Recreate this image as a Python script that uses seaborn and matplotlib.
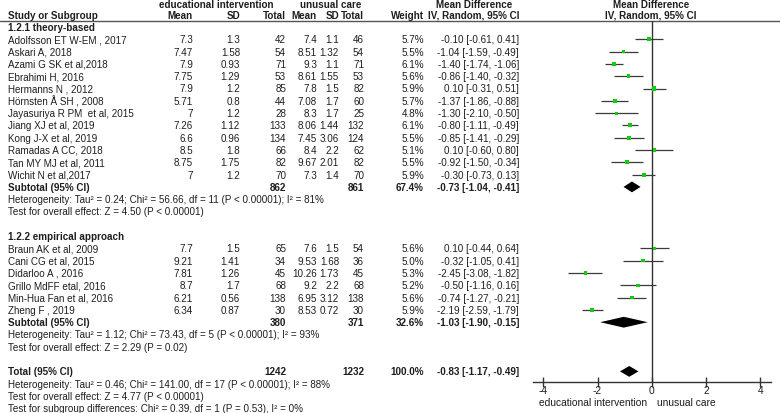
import matplotlib
matplotlib.use("Agg")
import matplotlib.pyplot as plt
import seaborn as sns
import pandas as pd

# ---------------- data ----------------
group1_title = "1.2.1 theory-based"
studies1 = ["Adolfsson ET W-EM , 2017", "Askari A, 2018", "Azami G SK et al,2018",
            "Ebrahimi H, 2016", "Hermanns N , 2012", "Hörnsten Å SH , 2008",
            "Jayasuriya R PM  et al, 2015", "Jiang XJ et al, 2019", "Kong J-X et al, 2019",
            "Ramadas A CC, 2018", "Tan MY MJ et al, 2011", "Wichit N et al,2017"]
edu_mean1 = [7.3, 7.47, 7.9, 7.75, 7.9, 5.71, 7, 7.26, 6.6, 8.5, 8.75, 7]
edu_sd1 = [1.3, 1.58, 0.93, 1.29, 1.2, 0.8, 1.2, 1.12, 0.96, 1.8, 1.75, 1.2]
edu_n1 = [42, 54, 71, 53, 85, 44, 28, 133, 134, 66, 82, 70]
uc_mean1 = [7.4, 8.51, 9.3, 8.61, 7.8, 7.08, 8.3, 8.06, 7.45, 8.4, 9.67, 7.3]
uc_sd1 = [1.1, 1.32, 1.1, 1.55, 1.5, 1.7, 1.7, 1.44, 3.06, 2.2, 2.01, 1.4]
uc_n1 = [46, 54, 71, 53, 82, 60, 25, 132, 124, 62, 82, 70]
weight1 = [5.7, 5.5, 6.1, 5.6, 5.9, 5.7, 4.8, 6.1, 5.5, 5.1, 5.5, 5.9]
md1 = [-0.10, -1.04, -1.40, -0.86, 0.10, -1.37, -1.30, -0.80, -0.85, 0.10, -0.92, -0.30]
lo1 = [-0.61, -1.59, -1.74, -1.40, -0.31, -1.86, -2.10, -1.11, -1.41, -0.60, -1.50, -0.73]
hi1 = [0.41, -0.49, -1.06, -0.32, 0.51, -0.88, -0.50, -0.49, -0.29, 0.80, -0.34, 0.13]
sub1 = {"md": -0.73, "lo": -1.04, "hi": -0.41, "n_edu": 862, "n_uc": 861, "w": 67.4}
het1 = "Heterogeneity: Tau² = 0.24; Chi² = 56.66, df = 11 (P < 0.00001); I² = 81%"
eff1 = "Test for overall effect: Z = 4.50 (P < 0.00001)"

group2_title = "1.2.2 empirical approach"
studies2 = ["Braun AK et al, 2009", "Cani CG et al, 2015", "Didarloo A , 2016",
            "Grillo MdFF etal, 2016", "Min-Hua Fan et al, 2016", "Zheng F , 2019"]
edu_mean2 = [7.7, 9.21, 7.81, 8.7, 6.21, 6.34]
edu_sd2 = [1.5, 1.41, 1.26, 1.7, 0.56, 0.87]
edu_n2 = [65, 34, 45, 68, 138, 30]
uc_mean2 = [7.6, 9.53, 10.26, 9.2, 6.95, 8.53]
uc_sd2 = [1.5, 1.68, 1.73, 2.2, 3.12, 0.72]
uc_n2 = [54, 36, 45, 68, 138, 30]
weight2 = [5.6, 5.0, 5.3, 5.2, 5.6, 5.9]
md2 = [0.10, -0.32, -2.45, -0.50, -0.74, -2.19]
lo2 = [-0.44, -1.05, -3.08, -1.16, -1.27, -2.59]
hi2 = [0.64, 0.41, -1.82, 0.16, -0.21, -1.79]
sub2 = {"md": -1.03, "lo": -1.90, "hi": -0.15, "n_edu": 380, "n_uc": 371, "w": 32.6}
het2 = "Heterogeneity: Tau² = 1.12; Chi² = 73.43, df = 5 (P < 0.00001); I² = 93%"
eff2 = "Test for overall effect: Z = 2.29 (P = 0.02)"

total = {"md": -0.83, "lo": -1.17, "hi": -0.49, "n_edu": 1242, "n_uc": 1232, "w": 100.0}
het_t = "Heterogeneity: Tau² = 0.46; Chi² = 141.00, df = 17 (P < 0.00001); I² = 88%"
eff_t = "Test for overall effect: Z = 4.77 (P < 0.00001)"
sub_t = "Test for subgroup differences: Chi² = 0.39, df = 1 (P = 0.53), I² = 0%"

x_ticks = [-4, -2, 0, 2, 4]
left_label = "educational intervention"
right_label = "unusual care"

# ---------------- style ----------------
sns.set_theme(style="white")
plt.rcParams["font.family"] = ["Liberation Sans", "DejaVu Sans"]
FS = 7.1
TXT = "#1e1e1e"

fig = plt.figure(figsize=(7.8, 4.14), dpi=100)
ax_t = fig.add_axes([0, 0, 1, 1])
ax_t.set_xlim(0, 780)
ax_t.set_ylim(414, 0)
ax_t.axis("off")

Y0, DY = 28.0, 12.3


def ypix(r):
    return Y0 + DY * r


def txt(x, r, s, ha="left", bold=False):
    ax_t.text(x, ypix(r), s, ha=ha, va="center", fontsize=FS, color=TXT,
              fontweight="bold" if bold else "normal")


# column right edges
X_NAME = 8
X_EM, X_ESD, X_EN = 193, 240, 286
X_UM, X_USD, X_UN = 317, 339, 364
X_W, X_CI = 424, 519

# headers
for x, s in [(216, "educational intervention"), (331, "unusual care"),
             (474, "Mean Difference"), (651, "Mean Difference")]:
    ax_t.text(x, 5, s, ha="center", va="center", fontsize=FS, color=TXT,
              fontweight="bold")
for x, s, ha in [(X_NAME, "Study or Subgroup", "left"), (X_EM, "Mean", "right"),
                 (X_ESD, "SD", "right"), (X_EN, "Total", "right"),
                 (X_UM, "Mean", "right"), (X_USD, "SD", "right"),
                 (X_UN, "Total", "right"), (X_W, "Weight", "right"),
                 (X_CI, "IV, Random, 95% CI", "right")]:
    ax_t.text(x, 16, s, ha=ha, va="center", fontsize=FS, color=TXT, fontweight="bold")
ax_t.text(651, 16, "IV, Random, 95% CI", ha="center", va="center",
          fontsize=FS, color=TXT, fontweight="bold")
ax_t.axhline(22, color="#555555", lw=1.0)


def ci_str(m, l, h):
    return f"{m:.2f} [{l:.2f}, {h:.2f}]"


rows_study = []


def study_rows(start, names, em, esd, en, um, usd, un, w, md, lo, hi):
    for i, name in enumerate(names):
        r = start + i
        txt(X_NAME, r, name)
        txt(X_EM, r, f"{em[i]:g}", "right")
        txt(X_ESD, r, f"{esd[i]:g}", "right")
        txt(X_EN, r, f"{en[i]}", "right")
        txt(X_UM, r, f"{um[i]:g}", "right")
        txt(X_USD, r, f"{usd[i]:g}", "right")
        txt(X_UN, r, f"{un[i]}", "right")
        txt(X_W, r, f"{w[i]:.1f}%", "right")
        txt(X_CI, r, ci_str(md[i], lo[i], hi[i]), "right")
        rows_study.append({"row": r, "md": md[i], "lo": lo[i], "hi": hi[i], "w": w[i]})


def summary_row(r, label, d):
    txt(X_NAME, r, label, bold=True)
    txt(X_EN, r, f"{d['n_edu']}", "right", bold=True)
    txt(X_UN, r, f"{d['n_uc']}", "right", bold=True)
    txt(X_W, r, f"{d['w']:.1f}%", "right", bold=True)
    txt(X_CI, r, ci_str(d["md"], d["lo"], d["hi"]), "right", bold=True)


txt(X_NAME, 0, group1_title, bold=True)
study_rows(1, studies1, edu_mean1, edu_sd1, edu_n1, uc_mean1, uc_sd1, uc_n1,
           weight1, md1, lo1, hi1)
r_sub1 = 1 + len(studies1)
summary_row(r_sub1, "Subtotal (95% CI)", sub1)
txt(X_NAME, r_sub1 + 1, het1)
txt(X_NAME, r_sub1 + 2, eff1)

r_g2 = r_sub1 + 4
txt(X_NAME, r_g2, group2_title, bold=True)
study_rows(r_g2 + 1, studies2, edu_mean2, edu_sd2, edu_n2, uc_mean2, uc_sd2, uc_n2,
           weight2, md2, lo2, hi2)
r_sub2 = r_g2 + 1 + len(studies2)
summary_row(r_sub2, "Subtotal (95% CI)", sub2)
txt(X_NAME, r_sub2 + 1, het2)
txt(X_NAME, r_sub2 + 2, eff2)

r_tot = r_sub2 + 4
summary_row(r_tot, "Total (95% CI)", total)
txt(X_NAME, r_tot + 1, het_t)
txt(X_NAME, r_tot + 2, eff_t)
txt(X_NAME, r_tot + 3, sub_t)

# ---------------- forest panel ----------------
AX_L, AX_R, AX_TOP, AX_BOT = 533, 771, 22, 383
ax_f = fig.add_axes([AX_L / 780, (414 - AX_BOT) / 414,
                     (AX_R - AX_L) / 780, (AX_BOT - AX_TOP) / 414])
ax_f.patch.set_alpha(0)
ax_f.set_xlim(-4.38, 4.4)
ax_f.set_ylim((AX_BOT - Y0) / DY, (AX_TOP - Y0) / DY)

df = pd.DataFrame(rows_study)
ax_f.hlines(df["row"], df["lo"], df["hi"], color="#3a3a3a", lw=0.9, zorder=2)
sns.scatterplot(data=df, x="md", y="row", size="w", sizes=(5, 9), marker="s",
                color="#11cc11", edgecolor="none", legend=False, ax=ax_f, zorder=3)

for r, d in [(r_sub1, sub1), (r_sub2, sub2), (r_tot, total)]:
    ax_f.fill([d["lo"], d["md"], d["hi"], d["md"]],
              [r, r - 0.44, r, r + 0.44], color="black", lw=0, zorder=4)

ax_f.axvline(0, color="#333333", lw=1.0, zorder=1)
for side in ["top", "left", "right"]:
    ax_f.spines[side].set_visible(False)
ax_f.spines["bottom"].set_color("#333333")
ax_f.spines["bottom"].set_linewidth(1.0)
ax_f.set_xticks(x_ticks)
ax_f.set_xticklabels([f"{t}" for t in x_ticks])
ax_f.tick_params(axis="x", direction="inout", length=7, width=1.0, color="#333333",
                 labelsize=FS + 0.3, labelcolor=TXT, pad=-1, bottom=True)
ax_f.set_yticks([])
ax_f.set_xlabel("")
ax_f.set_ylabel("")

ax_t.text(647, 403, left_label, ha="right", va="center", fontsize=FS + 0.3, color=TXT)
ax_t.text(657, 403, right_label, ha="left", va="center", fontsize=FS + 0.3, color=TXT)

fig.savefig("out.png", dpi=100)
